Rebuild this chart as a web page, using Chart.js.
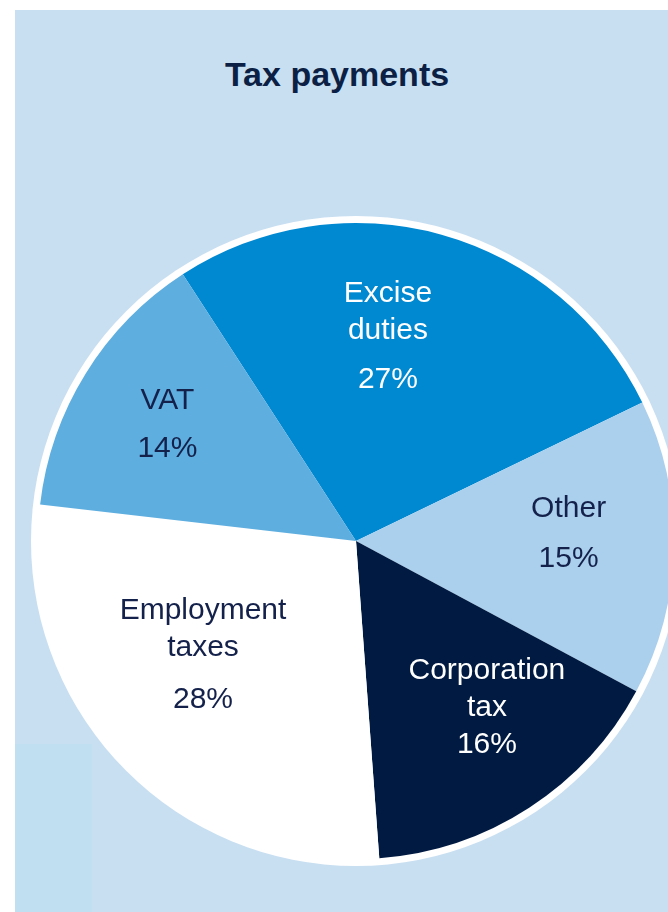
<!DOCTYPE html>
<html>
<head>
<meta charset="utf-8">
<script src="https://cdn.jsdelivr.net/npm/chart.js@4/dist/chart.umd.min.js"></script>
<style>
  html, body { margin: 0; padding: 0; width: 668px; height: 912px; overflow: hidden; background: #ffffff; }
  #bg { position: absolute; left: 15px; top: 10px; right: 0; bottom: 0; background: #c8dff2; }
  #block { position: absolute; left: 15px; top: 744px; width: 77px; bottom: 0; background: #c0e0f2; }
  #title { position: absolute; left: 137px; top: 57px; width: 400px; text-align: center;
           font: bold 34px "Liberation Sans", Arial, sans-serif; line-height: 34px; color: #0c1f45; }
  #wrap { position: absolute; left: 0; top: 0; width: 712px; height: 912px; }
</style>
</head>
<body>
<div id="bg"></div>
<div id="block"></div>
<div id="title">Tax payments</div>
<div id="wrap"><canvas id="c" width="712" height="912"></canvas></div>
<script>
// ---- data ----
const categories = [['Excise', 'duties'], ['Other'], ['Corporation', 'tax'], ['Employment', 'taxes'], ['VAT']];
const shares = [27, 15, 16, 28, 14];
const percentLabels = ['27%', '15%', '16%', '28%', '14%'];

// ---- styling / layout (not data) ----
const sliceColors = ['#0088d1', '#abd0ee', '#001a42', '#ffffff', '#5eaee0'];
const textColors = ['#ffffff', '#14214a', '#ffffff', '#14214a', '#14214a'];
const labelAngleDeg = [7.6, 83.5, 136.5, 243.0, 305.0];
const labelRadiusFrac = [0.759, 0.673, 0.598, 0.540, 0.724];
const lineGap = 37;
const pctGap = [49, 50, 37, 52, 48];

const ringPlugin = {
  id: 'ring',
  beforeDatasetsDraw(chart) {
    const arc = chart.getDatasetMeta(0).data[0];
    const ctx = chart.ctx;
    ctx.save();
    ctx.beginPath();
    ctx.arc(arc.x, arc.y, arc.outerRadius + 7, 0, Math.PI * 2);
    ctx.fillStyle = '#ffffff';
    ctx.fill();
    ctx.restore();
  }
};

const labelPlugin = {
  id: 'sliceLabels',
  afterDatasetsDraw(chart) {
    const meta = chart.getDatasetMeta(0);
    const ctx = chart.ctx;
    ctx.save();
    ctx.font = '30px "Liberation Sans", Arial, sans-serif';
    ctx.textAlign = 'center';
    ctx.textBaseline = 'alphabetic';
    meta.data.forEach((arc, i) => {
      const th = labelAngleDeg[i] * Math.PI / 180;
      const r = arc.outerRadius * labelRadiusFrac[i];
      const x = arc.x + r * Math.sin(th);
      let y = arc.y - r * Math.cos(th);
      ctx.fillStyle = textColors[i];
      const lines = chart.data.labels[i];
      lines.forEach((t) => {
        ctx.fillText(t, x, y);
        y += lineGap;
      });
      y += pctGap[i] - lineGap;
      ctx.fillText(chart.data.datasets[0].pctLabels[i], x, y);
    });
    ctx.restore();
  }
};

new Chart(document.getElementById('c'), {
  type: 'pie',
  data: {
    labels: categories,
    datasets: [{
      data: shares,
      pctLabels: percentLabels,
      backgroundColor: sliceColors,
      borderWidth: 0
    }]
  },
  options: {
    responsive: false,
    animation: false,
    rotation: -33,
    layout: { padding: { left: 38, right: 38, top: 223, bottom: 53 } },
    plugins: {
      legend: { display: false },
      tooltip: { enabled: false },
      title: { display: false }
    }
  },
  plugins: [ringPlugin, labelPlugin]
});
</script>
</body>
</html>
